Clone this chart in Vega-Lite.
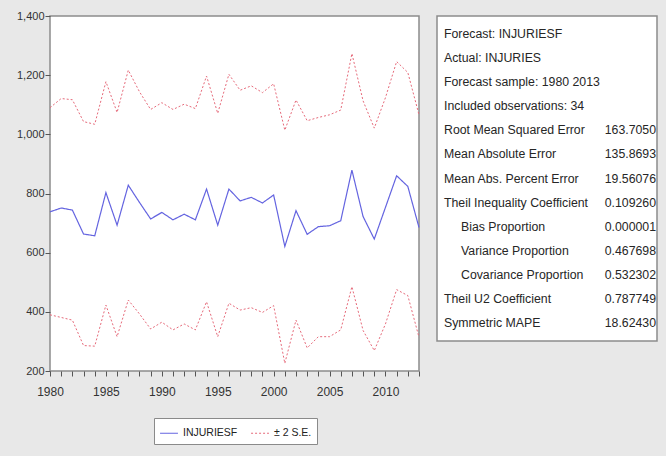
{
  "$schema": "https://vega.github.io/schema/vega-lite/v6.json",
  "background": "#e8e8e8",
  "padding": {"left": 15, "top": 9, "right": 10, "bottom": 12},
  "datasets": {
    "fc": [
      {"year": 1980, "f": 738, "up": 1090, "lo": 390},
      {"year": 1981, "f": 751, "up": 1121, "lo": 381},
      {"year": 1982, "f": 744, "up": 1117, "lo": 372},
      {"year": 1983, "f": 663, "up": 1043, "lo": 286},
      {"year": 1984, "f": 657, "up": 1034, "lo": 284},
      {"year": 1985, "f": 803, "up": 1178, "lo": 423},
      {"year": 1986, "f": 693, "up": 1074, "lo": 316},
      {"year": 1987, "f": 828, "up": 1217, "lo": 440},
      {"year": 1988, "f": 770, "up": 1144, "lo": 393},
      {"year": 1989, "f": 714, "up": 1084, "lo": 342},
      {"year": 1990, "f": 736, "up": 1107, "lo": 365},
      {"year": 1991, "f": 711, "up": 1084, "lo": 339},
      {"year": 1992, "f": 730, "up": 1102, "lo": 359},
      {"year": 1993, "f": 711, "up": 1087, "lo": 339},
      {"year": 1994, "f": 815, "up": 1197, "lo": 434},
      {"year": 1995, "f": 693, "up": 1071, "lo": 316},
      {"year": 1996, "f": 815, "up": 1203, "lo": 429},
      {"year": 1997, "f": 775, "up": 1149, "lo": 406},
      {"year": 1998, "f": 787, "up": 1164, "lo": 414},
      {"year": 1999, "f": 768, "up": 1141, "lo": 398},
      {"year": 2000, "f": 795, "up": 1171, "lo": 421},
      {"year": 2001, "f": 621, "up": 1014, "lo": 226},
      {"year": 2002, "f": 742, "up": 1116, "lo": 372},
      {"year": 2003, "f": 662, "up": 1046, "lo": 278},
      {"year": 2004, "f": 688, "up": 1057, "lo": 316},
      {"year": 2005, "f": 691, "up": 1066, "lo": 316},
      {"year": 2006, "f": 708, "up": 1082, "lo": 339},
      {"year": 2007, "f": 879, "up": 1273, "lo": 485},
      {"year": 2008, "f": 722, "up": 1113, "lo": 337},
      {"year": 2009, "f": 646, "up": 1021, "lo": 269},
      {"year": 2010, "f": 753, "up": 1124, "lo": 359},
      {"year": 2011, "f": 860, "up": 1246, "lo": 475},
      {"year": 2012, "f": 824, "up": 1209, "lo": 455},
      {"year": 2013, "f": 685, "up": 1066, "lo": 314}
    ],
    "stats": [
      {"label": "Forecast: INJURIESF", "value": ""},
      {"label": "Actual: INJURIES", "value": ""},
      {"label": "Forecast sample: 1980 2013", "value": ""},
      {"label": "Included observations: 34", "value": ""},
      {"label": "Root Mean Squared Error", "value": "163.7050"},
      {"label": "Mean Absolute Error", "value": "135.8693"},
      {"label": "Mean Abs. Percent Error", "value": "19.56076"},
      {"label": "Theil Inequality Coefficient", "value": "0.109260"},
      {"label": "Bias Proportion", "value": "0.000001"},
      {"label": "Variance Proportion", "value": "0.467698"},
      {"label": "Covariance Proportion", "value": "0.532302"},
      {"label": "Theil U2 Coefficient", "value": "0.787749"},
      {"label": "Symmetric MAPE", "value": "18.62430"}
    ]
  },
  "spacing": 13,
  "hconcat": [
    {
      "width": 369,
      "height": 355,
      "data": {"name": "fc"},
      "transform": [{"fold": ["f", "up", "lo"], "as": ["band", "val"]}],
      "encoding": {
        "x": {
          "field": "year", "type": "quantitative",
          "scale": {"domain": [1980, 2013], "nice": false, "zero": false},
          "axis": {
            "title": null,
            "values": [1980,1981,1982,1983,1984,1985,1986,1987,1988,1989,1990,1991,1992,1993,1994,1995,1996,1997,1998,1999,2000,2001,2002,2003,2004,2005,2006,2007,2008,2009,2010,2011,2012,2013],
            "format": ".0f",
            "labelExpr": "datum.value % 5 == 0 ? datum.label : ''",
            "tickSize": 5,
            "labelPadding": 10,
            "labelFontSize": 12,
            "labelFlush": false,
            "labelOverlap": false
          }
        },
        "y": {
          "field": "val", "type": "quantitative",
          "scale": {"domain": [200, 1400], "nice": false, "zero": false},
          "axis": {
            "title": null,
            "values": [200, 400, 600, 800, 1000, 1200, 1400],
            "format": ",.0f",
            "tickSize": 5,
            "labelPadding": 1,
            "labelFlush": false,
            "labelOverlap": false
          }
        },
        "detail": {"field": "band", "type": "nominal"}
      },
      "layer": [
        {
          "transform": [{"filter": "datum.band == 'f'"}],
          "mark": {"type": "line", "strokeWidth": 1.2},
          "encoding": {
            "color": {
              "datum": "INJURIESF", "type": "nominal",
              "scale": {"domain": ["INJURIESF", "± 2 S.E."], "range": ["#6464e0", "#e66a7a"]},
              "legend": {
                "title": null, "orient": "none", "legendX": 104, "legendY": 402,
                "direction": "horizontal", "fillColor": "white", "strokeColor": "#8a8a8a",
                "padding": 5, "symbolType": "stroke", "symbolSize": 320, "symbolStrokeWidth": 1.2,
                "labelFontSize": 10.5, "labelColor": "#222", "columnSpacing": 10
              }
            },
            "strokeDash": {
              "datum": "INJURIESF", "type": "nominal",
              "scale": {"domain": ["INJURIESF", "± 2 S.E."], "range": [[1, 0], [2, 2]]},
              "legend": {
                "title": null, "orient": "none", "legendX": 104, "legendY": 402,
                "direction": "horizontal", "fillColor": "white", "strokeColor": "#8a8a8a",
                "padding": 5, "symbolType": "stroke", "symbolSize": 320, "symbolStrokeWidth": 1.2,
                "labelFontSize": 10.5, "labelColor": "#222", "columnSpacing": 10
              }
            }
          }
        },
        {
          "transform": [{"filter": "datum.band != 'f'"}],
          "mark": {"type": "line", "strokeWidth": 1},
          "encoding": {
            "color": {"datum": "± 2 S.E.", "type": "nominal"},
            "strokeDash": {"datum": "± 2 S.E.", "type": "nominal"}
          }
        }
      ]
    },
    {
      "width": 220,
      "height": 325,
      "data": {"name": "stats"},
      "encoding": {
        "y": {
          "field": "label", "type": "nominal",
          "scale": {
            "type": "point", "padding": 0.74,
            "domain": ["Forecast: INJURIESF", "Actual: INJURIES", "Forecast sample: 1980 2013", "Included observations: 34", "Root Mean Squared Error", "Mean Absolute Error", "Mean Abs. Percent Error", "Theil Inequality Coefficient", "Bias Proportion", "Variance Proportion", "Covariance Proportion", "Theil U2 Coefficient", "Symmetric MAPE"]
          },
          "axis": null
        }
      },
      "layer": [
        {
          "transform": [{"filter": "indexof(['Bias Proportion','Variance Proportion','Covariance Proportion'], datum.label) < 0"}],
          "mark": {"type": "text", "align": "left", "baseline": "middle", "dx": 7, "fontSize": 12.3, "color": "#262626"},
          "encoding": {
            "x": {"datum": "label", "type": "nominal", "scale": {"type": "point", "domain": ["label", "value"], "padding": 0}, "axis": null},
            "text": {"field": "label"}
          }
        },
        {
          "transform": [{"filter": "indexof(['Bias Proportion','Variance Proportion','Covariance Proportion'], datum.label) >= 0"}],
          "mark": {"type": "text", "align": "left", "baseline": "middle", "dx": 24, "fontSize": 12.3, "color": "#262626"},
          "encoding": {
            "x": {"datum": "label", "type": "nominal"},
            "text": {"field": "label"}
          }
        },
        {
          "mark": {"type": "text", "align": "right", "baseline": "middle", "dx": -1, "fontSize": 12.3, "color": "#262626"},
          "encoding": {
            "x": {"datum": "value", "type": "nominal"},
            "text": {"field": "value"}
          }
        }
      ]
    }
  ],
  "config": {
    "font": "Liberation Sans",
    "view": {"fill": "white", "stroke": "#8c8c8c", "strokeWidth": 1.5},
    "axis": {
      "domain": false, "grid": false,
      "labelFont": "Liberation Sans", "labelFontSize": 11, "labelColor": "#333",
      "tickColor": "#555", "tickWidth": 1
    },
    "legend": {"labelFont": "Liberation Sans"},
    "text": {"font": "Liberation Sans"}
  }
}
